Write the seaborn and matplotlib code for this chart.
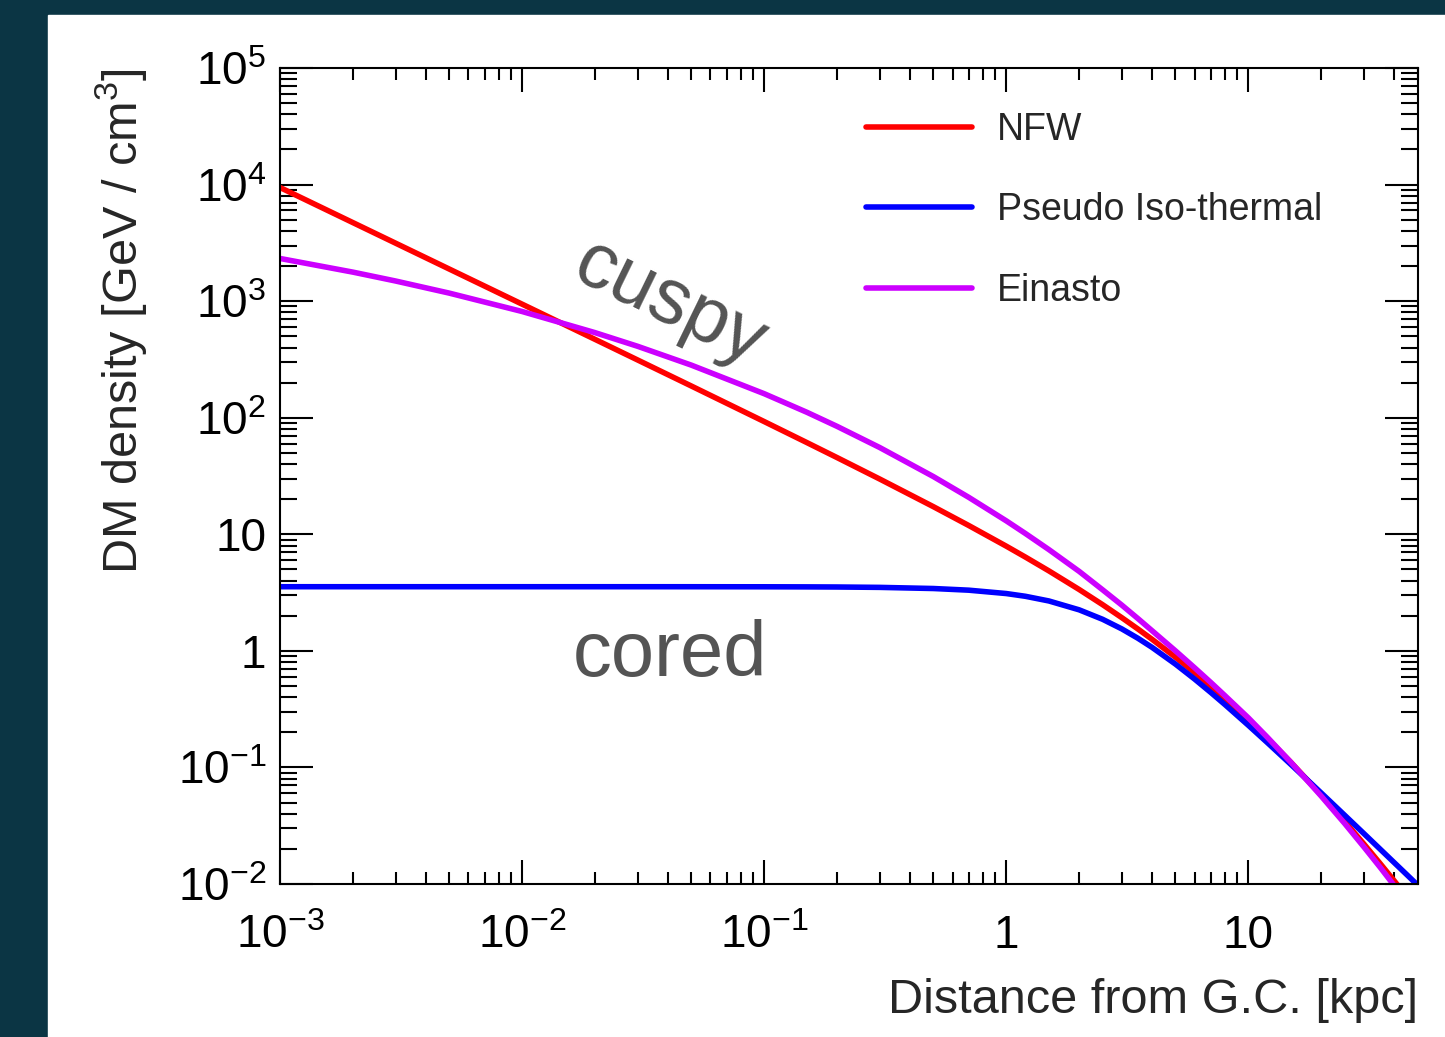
import matplotlib
matplotlib.use('Agg')
import matplotlib.pyplot as plt
import matplotlib.ticker as mticker
from matplotlib.patches import Rectangle
import pandas as pd
import seaborn as sns

# distance from the galactic centre [kpc]
r_kpc = [0.001, 0.002, 0.003, 0.005, 0.01, 0.02, 0.03, 0.05, 0.1, 0.15, 0.2, 0.3,
         0.5, 0.7, 1, 1.2, 1.5, 2, 2.5, 3, 3.5, 4, 5, 6, 7, 8,
         10, 12, 15, 20, 25, 30, 35, 40, 45, 50]

# DM density [GeV/cm3]
nfw = [9440, 4718, 3145, 1886, 942.3, 470.3, 312.9, 187.1, 92.68, 61.22, 45.50, 29.79,
       17.25, 11.89, 7.908, 6.372, 4.852, 3.360, 2.490, 1.927, 1.538, 1.257, 0.8821,
       0.6502, 0.4965, 0.3894, 0.2545, 0.1765, 0.1103, 0.05803, 0.03436, 0.02205,
       0.01500, 0.01067, 0.007858, 0.005957]
iso = [3.55, 3.55, 3.55, 3.55, 3.55, 3.55, 3.55, 3.549, 3.545, 3.5385, 3.530, 3.504,
       3.426, 3.315, 3.102, 2.938, 2.679, 2.249, 1.865, 1.543, 1.281, 1.0715, 0.7693,
       0.5722, 0.4391, 0.3463, 0.2297, 0.1627, 0.1059, 0.06035, 0.03886, 0.02708,
       0.01993, 0.01528, 0.01209, 0.009795]
einasto = [2323, 1774, 1489, 1172, 815, 537, 410, 282.6, 160.7, 111.4, 84.3, 55.5,
           31.26, 20.74, 13.04, 10.15, 7.389, 4.806, 3.34, 2.47, 1.89, 1.49, 1.00,
           0.715, 0.535, 0.413, 0.2661, 0.1807, 0.1104, 0.05671, 0.03302, 0.02079,
           0.01393, 0.00972, 0.007048, 0.005236]

model_names = ['NFW', 'Pseudo Iso-thermal', 'Einasto']
model_colors = ['#ff0000', '#0000ff', '#cc00ff']

xtick_vals = [1e-3, 1e-2, 1e-1, 1, 10]
xtick_labels = [r'$\mathdefault{10^{-3}}$', r'$\mathdefault{10^{-2}}$',
                r'$\mathdefault{10^{-1}}$', '1', '10']
ytick_vals = [1e-2, 1e-1, 1, 10, 1e2, 1e3, 1e4, 1e5]
ytick_labels = [r'$\mathdefault{10^{-2}}$', r'$\mathdefault{10^{-1}}$', '1', '10',
                r'$\mathdefault{10^{2}}$', r'$\mathdefault{10^{3}}$',
                r'$\mathdefault{10^{4}}$', r'$\mathdefault{10^{5}}$']

df = pd.DataFrame({
    'r': r_kpc * 3,
    'rho': nfw + iso + einasto,
    'model': [m for m in model_names for _ in r_kpc],
})

sns.set_theme(style='ticks')
plt.rcParams['font.family'] = ['Liberation Sans', 'DejaVu Sans']
plt.rcParams['mathtext.fontset'] = 'custom'
plt.rcParams['mathtext.rm'] = 'Liberation Sans'
plt.rcParams['mathtext.it'] = 'Liberation Sans:italic'

W, H = 1445, 1037
fig = plt.figure(figsize=(W / 100, H / 100), dpi=100, facecolor='#0b3544')
fig.patches.append(Rectangle((48 / W, 0), 1 - 48 / W, 1 - 15 / H,
                             transform=fig.transFigure, color='white', zorder=-10))
ax = fig.add_axes([280 / W, (H - 884) / H, (1418 - 280) / W, 816 / H])
ax.set_facecolor('white')

sns.lineplot(data=df, x='r', y='rho', hue='model', hue_order=model_names,
             palette=model_colors, lw=4, ax=ax, legend=False, sort=True)

ax.set_xscale('log')
ax.set_yscale('log')
ax.set_xlim(1e-3, 50.2)
ax.set_ylim(1e-2, 1e5)

ax.xaxis.set_major_locator(mticker.FixedLocator(xtick_vals))
ax.xaxis.set_major_formatter(mticker.FixedFormatter(xtick_labels))
ax.yaxis.set_major_locator(mticker.FixedLocator(ytick_vals))
ax.yaxis.set_major_formatter(mticker.FixedFormatter(ytick_labels))
ax.xaxis.set_minor_locator(mticker.LogLocator(base=10, subs=range(2, 10), numticks=50))
ax.yaxis.set_minor_locator(mticker.LogLocator(base=10, subs=range(2, 10), numticks=50))
ax.xaxis.set_minor_formatter(mticker.NullFormatter())
ax.yaxis.set_minor_formatter(mticker.NullFormatter())

for s in ax.spines.values():
    s.set_visible(True)
    s.set_linewidth(1.5)
    s.set_color('black')

ax.tick_params(which='both', direction='in', top=True, right=True, color='black',
               width=1.5, labelcolor='black')
ax.tick_params(axis='x', which='major', length=17, labelsize=33, pad=46)
ax.tick_params(axis='x', which='minor', length=8.3)
ax.tick_params(axis='y', which='major', length=24, labelsize=33, pad=10)
ax.tick_params(axis='y', which='minor', length=12)
for lab in ax.get_xticklabels():
    lab.set_verticalalignment('baseline')

ax.set_xlabel('Distance from G.C. [kpc]', fontsize=35, loc='right')
ax.set_ylabel(r'DM density [GeV / cm$^{3}$]', fontsize=35, loc='top')
ax.xaxis.set_label_coords(1.0, -0.1155)
ax.yaxis.set_label_coords(-0.115, 1.0)

ax.text(0.0408, 942, 'cuspy', rotation=-26, rotation_mode='anchor', ha='center',
        va='center', fontsize=56, color='#545454')
ax.text(0.0408, 0.608, 'cored', ha='center', va='baseline', fontsize=56, color='#545454')

ax.legend(ax.get_lines()[:3], model_names, loc='upper left', bbox_to_anchor=(0.515, 0.9465),
          frameon=False, fontsize=27, handlelength=2.83, handletextpad=0.67,
          labelspacing=1.19, borderpad=0, borderaxespad=0)

fig.savefig('out.png', dpi=100, facecolor=fig.get_facecolor())
